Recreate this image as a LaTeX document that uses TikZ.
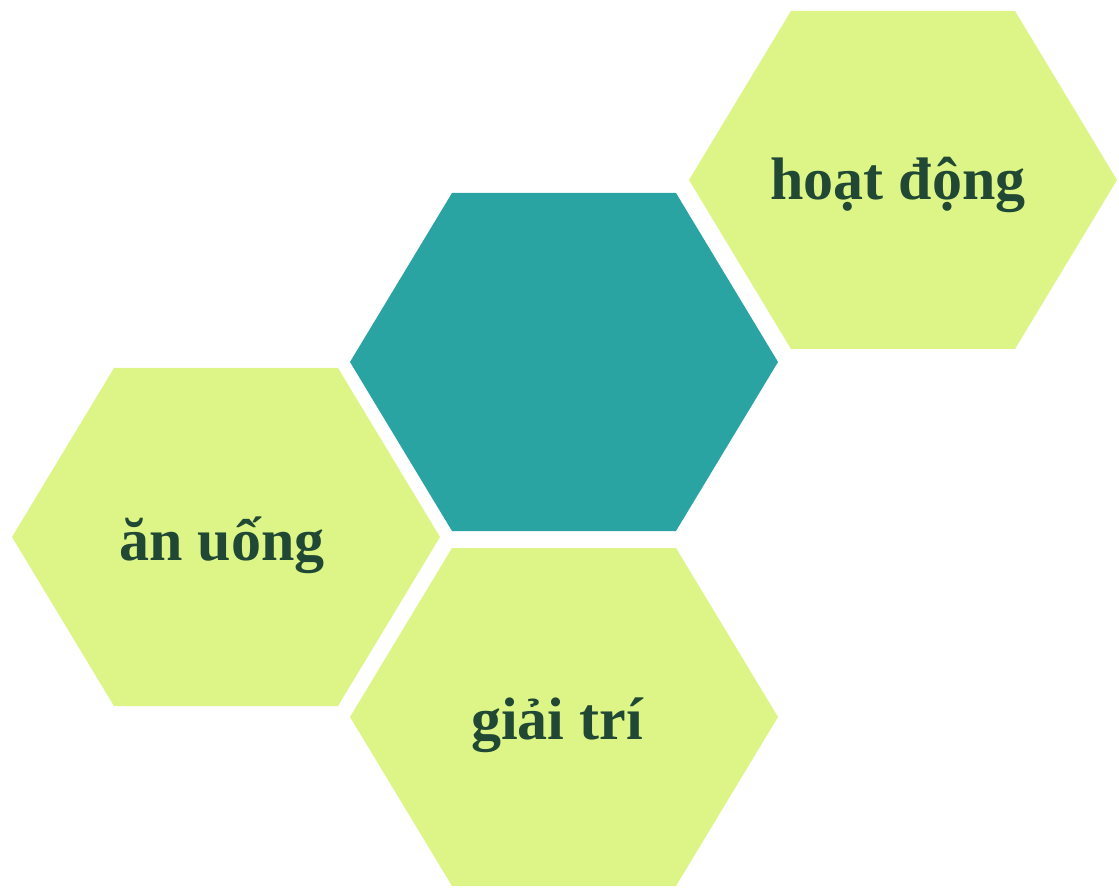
\documentclass[tikz,border=0pt]{standalone}
\usepackage{fontspec}
\setmainfont{Liberation Serif}
\definecolor{lightg}{RGB}{221,245,135}
\definecolor{tealc}{RGB}{42,164,162}
\definecolor{textg}{RGB}{32,72,52}
\tikzset{
  hexfill/.style={fill=#1},
  label text/.style={anchor=base, text=textg, font=\bfseries\fontsize{60}{60}\selectfont, inner sep=0pt},
}
\newcommand\hexpath[2]{(#1-214,#2) -- (#1-112,#2-169) -- (#1+112,#2-169) -- (#1+214,#2) -- (#1+112,#2+169) -- (#1-112,#2+169) -- cycle}
\begin{document}
\begin{tikzpicture}[x=1pt,y=-1pt]
\useasboundingbox (0,0) rectangle (1119,890);
\fill[white] (0,0) rectangle (1119,890);
% hexagons
\fill[lightg] \hexpath{903}{180};
\fill[tealc] \hexpath{564}{362};
\fill[lightg] \hexpath{226}{537};
\fill[lightg] \hexpath{564}{717};
\coordinate (hoat) at (903,180);
\coordinate (center) at (564,362);
\coordinate (anuong) at (226,537);
\coordinate (giaitri) at (564,717);
% labels
\node[label text] (t1) at (898,200) {hoạt động};
\node[label text] (t2) at (222,560) {ăn uống};
\node[label text] (t3) at (557,739) {giải trí};
\end{tikzpicture}
\end{document}
